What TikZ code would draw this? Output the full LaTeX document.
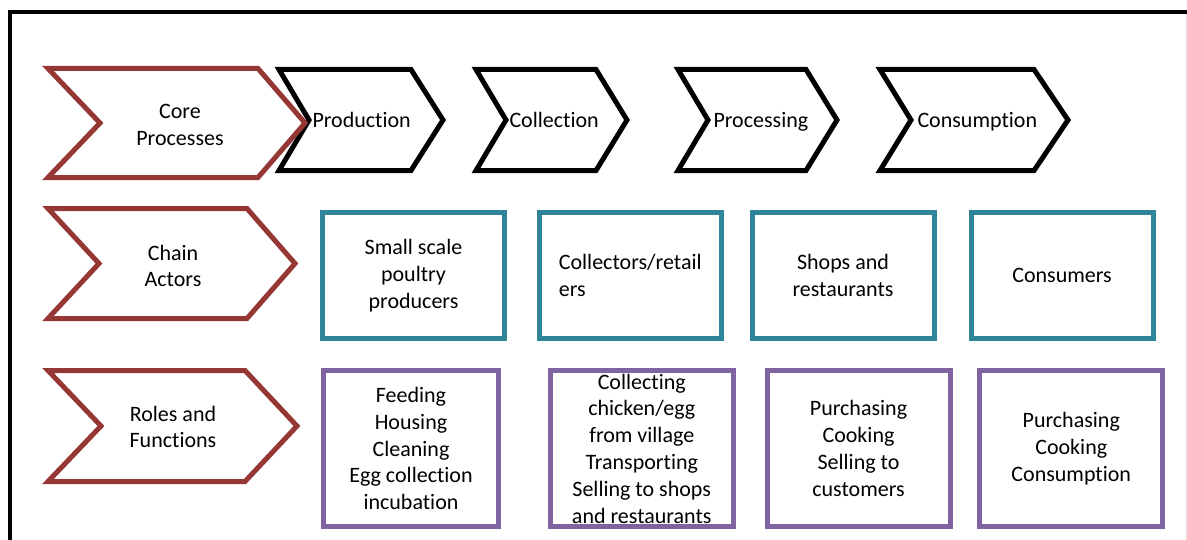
\documentclass[tikz,border=0pt]{standalone}
\usepackage{fontspec}
\setmainfont{Carlito}[RawFeature=-liga, RawFeature=-clig, RawFeature=-calt, RawFeature=-dlig]
\definecolor{chevred}{RGB}{149,55,53}
\definecolor{actorteal}{RGB}{49,133,155}
\definecolor{rolepurple}{RGB}{128,100,162}
\begin{document}
\begin{tikzpicture}[x=0.5pt, y=-0.5pt, line width=2.5pt,
		every node/.style={font=\fontsize{11pt}{13.4pt}\selectfont, align=center},
		label/.style={anchor=base west, inner sep=0pt},
		actor/.style={draw=actorteal, minimum width=91pt, minimum height=63pt, inner sep=0pt},
		role/.style={draw=rolepurple, minimum width=91.5pt, minimum height=78pt, inner sep=0pt}]
		\useasboundingbox (0,0) rectangle (1187,540);

		\draw[line width=2pt] (9.5,540) -- (9.5,12) -- (1187,12);
		\draw[line width=0.5pt, black!12] (1186,14) -- (1186,540);

		\draw (279,69.5) -- (411,69.5) -- (443,120) -- (411,170.5) -- (279,170.5) -- (309,120) -- cycle;
		\draw (476,69.5) -- (596,69.5) -- (627,120) -- (596,170.5) -- (476,170.5) -- (506,120) -- cycle;
		\draw (678,69.5) -- (806,69.5) -- (837,120) -- (806,170.5) -- (678,170.5) -- (708,120) -- cycle;
		\draw (880,69.5) -- (1034,69.5) -- (1068,120) -- (1034,170.5) -- (880,170.5) -- (911,120) -- cycle;

		\draw[chevred] (48,68.5) -- (258,68.5) -- (305,123) -- (258,177.5) -- (48,177.5) -- (100,123) -- cycle;
		\draw[chevred] (48,208.5) -- (247,208.5) -- (295,263.5) -- (247,318.5) -- (48,318.5) -- (99,263.5) -- cycle;
		\draw[chevred] (48,370.5) -- (245,370.5) -- (297,426) -- (245,481.5) -- (48,481.5) -- (101,426) -- cycle;

		\node (core) at (180,125) {Core\\Processes};
		\node (chain) at (173,266) {Chain\\Actors};
		\node (roles) at (173,427) {Roles and\\Functions};

		\node[label] (production) at (310,127.5) {Production};
		\node[label] (collection) at (507,127.5) {Collection};
		\node[label] (processing) at (711,127.5) {Processing};
		\node[label] (consumption) at (915,127.5) {Consumption};

		\node[actor] (producers) at (413.5,275.5) {Small scale\\poultry\\producers};
		\node[actor, align=left] (collectors) at (630.25,275.5) {Collectors/retail\\ers};
		\node[actor] (shops) at (843,275.5) {Shops and\\restaurants};
		\node[actor] (consumers) at (1062,275.5) {Consumers};

		\node[role, minimum width=87.5pt] (rfarm) at (411,448.5) {Feeding\\Housing\\Cleaning\\Egg collection\\incubation};
		\node[role] (rcollect) at (641.75,448.5) {Collecting\\chicken/egg\\from village\\Transporting\\Selling to shops\\and restaurants};
		\node[role] (rshop) at (858.5,448.5) {Purchasing\\Cooking\\Selling to\\customers};
		\node[role] (rconsume) at (1071.25,448.5) {Purchasing\\Cooking\\Consumption};
	\end{tikzpicture}
\end{document}
